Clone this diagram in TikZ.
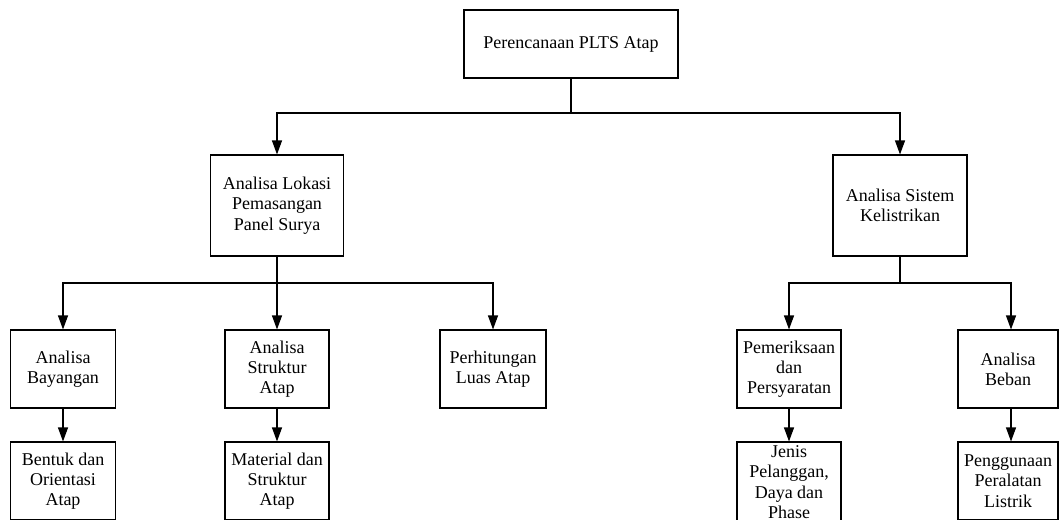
\documentclass[tikz,border=0pt]{standalone}
\usepackage{fontspec}
\setmainfont{Liberation Serif}
\usetikzlibrary{arrows.meta}
\tikzset{
  box/.style={draw=black, line width=1.1pt, align=center, inner sep=0pt,
    font=\fontsize{18}{20.3}\selectfont},
  line/.style={draw=black, line width=1.1pt},
  arr/.style={line, -{Triangle[length=14pt,width=10pt]}}
}
\begin{document}
\begin{tikzpicture}[x=1pt,y=-1pt]
\useasboundingbox (0,0) rectangle (1059,519);
\clip (0,0) rectangle (1059,519);
\fill[white] (0,0) rectangle (1059,519);

\node[box, minimum width=214pt, minimum height=68pt] (top) at (571,44) {Perencanaan PLTS Atap};
\node[box, minimum width=133pt, minimum height=101pt] (lokasi) at (277,205.5) {Analisa Lokasi\\Pemasangan\\Panel Surya};
\node[box, minimum width=134pt, minimum height=101pt] (sistem) at (900,205.5) {Analisa Sistem\\Kelistrikan};

\node[box, minimum width=105pt, minimum height=78pt] (bayangan) at (63,369) {Analisa\\Bayangan};
\node[box, minimum width=104pt, minimum height=78pt] (struktur) at (277,369) {Analisa\\Struktur\\Atap};
\node[box, minimum width=106pt, minimum height=78pt] (luas) at (493,369) {Perhitungan\\Luas Atap};
\node[box, minimum width=104pt, minimum height=78pt] (periksa) at (789,369) {Pemeriksaan\\dan\\Persyaratan};
\node[box, minimum width=100pt, minimum height=78pt] (beban) at (1008,369) {Analisa\\Beban};

\node[box, minimum width=105pt, minimum height=78pt] (bentuk) at (63,481) {Bentuk dan\\Orientasi\\Atap};
\node[box, minimum width=104pt, minimum height=78pt] (material) at (277,481) {Material dan\\Struktur\\Atap};
\node[box, minimum width=104pt, minimum height=80pt] (jenis) at (789,482) {Jenis\\Pelanggan,\\Daya dan\\Phase};
\node[box, minimum width=100pt, minimum height=78pt] (guna) at (1008,481) {Penggunaan\\Peralatan\\Listrik};

\coordinate (h1) at (571,113);
\coordinate (h2) at (277,283);
\coordinate (h3) at (900,283);

\draw[line] (top.south) -- (h1);
\draw[arr] (h1) -| (lokasi.north);
\draw[arr] (h1) -| (sistem.north);

\draw[line] (lokasi.south) -- (h2);
\draw[arr] (h2) -| (bayangan.north);
\draw[arr] (h2) -| (struktur.north);
\draw[arr] (h2) -| (luas.north);

\draw[line] (sistem.south) -- (h3);
\draw[arr] (h3) -| (periksa.north);
\draw[arr] (h3) -| ([xshift=3pt]beban.north);

\draw[arr] (bayangan.south) -- (bentuk.north);
\draw[arr] (struktur.south) -- (material.north);
\draw[arr] (periksa.south) -- (jenis.north);
\draw[arr] ([xshift=3pt]beban.south) -- ([xshift=3pt]guna.north);
\end{tikzpicture}
\end{document}
